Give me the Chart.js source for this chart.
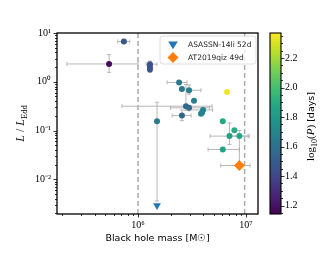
<!DOCTYPE html>
<html><head><meta charset="utf-8">
<script src="https://cdn.jsdelivr.net/npm/chart.js@4/dist/chart.umd.min.js"></script>
<style>html,body{margin:0;padding:0;background:#fff;}#wrap{width:333px;height:260px;position:relative;}</style>
</head><body><div id="wrap"><canvas id="c" width="333" height="260"></canvas></div>
<script>
// ---- data ----
const mass   = [7.4e5, 5.4e5, 1.29e6, 1.29e6, 1.29e6, 1.5e6, 2.4e6, 2.55e6, 2.97e6, 3.3e6, 2.78e6, 2.97e6, 4.0e6, 3.92e6, 3.83e6, 2.55e6, 6.67e6, 6.09e6, 7.8e6, 7.03e6, 8.67e6, 6.09e6];
const lum    = [6.7, 2.32, 2.3, 2.0, 1.78, 0.156, 0.97, 0.71, 0.67, 0.41, 0.316, 0.293, 0.265, 0.235, 0.222, 0.203, 0.62, 0.156, 0.101, 0.077, 0.077, 0.041];
const logP   = [1.47, 1.18, 1.46, 1.45, 1.47, 1.66, 1.64, 1.63, 1.66, 1.67, 1.56, 1.56, 1.69, 1.68, 1.69, 1.55, 2.35, 1.88, 1.90, 1.83, 1.87, 1.85];
const massLo = [6.5e5, 2.2e5, 1.19e6, null, null, null, 1.86e6, null, 2.84e6, null, 7.1e5, 2.0e6, 2.97e6, null, null, 2.07e6, null, null, null, 4.64e6, 6.81e6, 4.45e6];
const massHi = [8.4e5, 1.0e6, 1.5e6, null, null, null, 2.84e6, null, 3.83e6, null, 4.85e6, 4.6e6, 4.9e6, null, null, 3.1e6, null, null, null, 1.045e7, 1.07e7, 8.67e6];
const lumLo  = [null, 1.56, null, 1.56, null, 0.0036, null, null, 0.56, null, 0.26, null, null, null, null, 0.16, null, null, null, 0.052, 0.019, null];
const lumHi  = [null, 3.6, null, 2.65, null, 0.38, null, null, 0.86, null, 0.875, null, null, null, null, 0.265, null, null, null, 0.143, 0.1, null];

const specialLabels = ['ASASSN-14li 52d', 'AT2019qiz 49d'];
const specialMass   = [1.5e6, 8.67e6];
const specialLum    = [0.0029, 0.0192];
const specialMassLo = [null, 5.83e6];
const specialMassHi = [null, 1.09e7];

const vLines = [1e6, 9.7e6];

const xRange = [1.78e5, 1.29e7];
const yRange = [0.00195, 10];
const cRange = [1.143, 2.37];

const xTickVals = [1e6, 1e7];
const xTickLabels = ['10⁶', '10⁷'];
const yTickVals = [0.01, 0.1, 1, 10];
const yTickLabels = ['10⁻²', '10⁻¹', '10⁰', '10¹'];
const cTickVals = [1.2, 1.4, 1.6, 1.8, 2.0, 2.2];
const cTickLabels = ['1.2', '1.4', '1.6', '1.8', '2.0', '2.2'];

const xTitle = 'Black hole mass [M☉]';

// ---- helpers ----
const VIR = [[68,1,84],[72,36,117],[65,68,135],[53,95,141],[42,120,142],[33,145,140],[34,168,132],[68,191,112],[122,209,81],[189,223,38],[253,231,37]];
function viridis(t){
  t = Math.max(0, Math.min(1, t));
  const s = t * 10, i = Math.min(9, Math.floor(s)), f = s - i;
  const a = VIR[i], b = VIR[i+1];
  return 'rgb(' + [0,1,2].map(k => Math.round(a[k] + (b[k]-a[k])*f)).join(',') + ')';
}
function cnorm(v){ return (v - cRange[0]) / (cRange[1] - cRange[0]); }
function logTickValues(min, max){
  const out = [];
  for (let e = Math.floor(Math.log10(min)); e <= Math.ceil(Math.log10(max)); e++){
    for (let k = 1; k <= 9; k++){
      const v = k * Math.pow(10, e);
      if (v >= min * 0.9999 && v <= max * 1.0001) out.push({value: v, major: k === 1});
    }
  }
  return out;
}
function labelFor(v, vals, labels){
  for (let i = 0; i < vals.length; i++) if (Math.abs(Math.log10(v) - Math.log10(vals[i])) < 1e-6) return labels[i];
  return '';
}

const pointColors = logP.map(p => viridis(cnorm(p)));

// ---- plugins ----
const errorBarPlugin = {
  id: 'errbars',
  beforeDatasetsDraw(chart){
    const {ctx, chartArea: a} = chart;
    const xs = chart.scales.x, ys = chart.scales.y;
    ctx.save();
    ctx.beginPath(); ctx.rect(a.left, a.top, a.right - a.left, a.bottom - a.top); ctx.clip();
    ctx.strokeStyle = 'rgba(175,175,175,0.9)';
    ctx.lineWidth = 1;
    const cap = 2;
    function bars(m, l, mlo, mhi, llo, lhi){
      const px = xs.getPixelForValue(m), py = ys.getPixelForValue(l);
      ctx.beginPath();
      if (mlo != null){
        const x1 = xs.getPixelForValue(mlo), x2 = xs.getPixelForValue(mhi);
        ctx.moveTo(x1, py); ctx.lineTo(x2, py);
        ctx.moveTo(x1, py - cap); ctx.lineTo(x1, py + cap);
        ctx.moveTo(x2, py - cap); ctx.lineTo(x2, py + cap);
      }
      if (llo != null){
        const y1 = ys.getPixelForValue(llo), y2 = ys.getPixelForValue(lhi);
        ctx.moveTo(px, y1); ctx.lineTo(px, y2);
        ctx.moveTo(px - cap, y1); ctx.lineTo(px + cap, y1);
        ctx.moveTo(px - cap, y2); ctx.lineTo(px + cap, y2);
      }
      ctx.stroke();
    }
    for (let i = 0; i < mass.length; i++) bars(mass[i], lum[i], massLo[i], massHi[i], lumLo[i], lumHi[i]);
    for (let i = 0; i < specialMass.length; i++) bars(specialMass[i], specialLum[i], specialMassLo[i], specialMassHi[i], null, null);
    ctx.restore();
  }
};

function drawMarker(ctx, style, x, y, r, color){
  ctx.fillStyle = color;
  ctx.beginPath();
  if (style === 'tri'){
    ctx.moveTo(x - r, y - r*0.6); ctx.lineTo(x + r, y - r*0.6); ctx.lineTo(x, y + r); ctx.closePath();
  } else {
    ctx.moveTo(x, y - r); ctx.lineTo(x + r, y); ctx.lineTo(x, y + r); ctx.lineTo(x - r, y); ctx.closePath();
  }
  ctx.fill();
}

function drawParts(ctx, parts, cx, cy, rot){
  ctx.save();
  ctx.translate(cx, cy); ctx.rotate(rot);
  let total = 0;
  parts.forEach(p => { ctx.font = p.font; p.w = ctx.measureText(p.t).width; total += p.w; });
  let x = -total / 2;
  ctx.fillStyle = '#000';
  ctx.textBaseline = 'alphabetic';
  ctx.textAlign = 'left';
  parts.forEach(p => { ctx.font = p.font; ctx.fillText(p.t, x, p.dy); x += p.w; });
  ctx.restore();
}

const decorPlugin = {
  id: 'decor',
  afterDraw(chart){
    const {ctx, chartArea: a} = chart;
    const xs = chart.scales.x, ys = chart.scales.y, cs = chart.scales.cb;
    ctx.save();
    // frame
    ctx.strokeStyle = '#000'; ctx.lineWidth = 1.3;
    ctx.strokeRect(a.left, a.top, a.right - a.left, a.bottom - a.top);
    // tick marks
    ctx.lineWidth = 0.8;
    ctx.beginPath();
    logTickValues(xRange[0], xRange[1]).forEach(t => {
      const px = Math.round(xs.getPixelForValue(t.value)) + 0.5;
      const len = t.major ? 3.5 : 2;
      ctx.moveTo(px, a.bottom); ctx.lineTo(px, a.bottom + len);
    });
    logTickValues(yRange[0], yRange[1]).forEach(t => {
      const py = Math.round(ys.getPixelForValue(t.value)) + 0.5;
      const len = t.major ? 3.5 : 2;
      ctx.moveTo(a.left, py); ctx.lineTo(a.left - len, py);
    });
    ctx.stroke();

    // legend
    const lx = a.left + 103, ly = a.top + 3, lw = 96, lh = 28;
    ctx.fillStyle = 'rgba(255,255,255,0.8)';
    ctx.strokeStyle = '#d5d5d5'; ctx.lineWidth = 0.8;
    ctx.beginPath();
    if (ctx.roundRect) ctx.roundRect(lx, ly, lw, lh, 3); else ctx.rect(lx, ly, lw, lh);
    ctx.fill(); ctx.stroke();
    const specDs = [chart.data.datasets[1], chart.data.datasets[2]];
    drawMarker(ctx, 'tri', lx + 13, ly + 8.5, 4.8, specDs[0].backgroundColor);
    drawMarker(ctx, 'dia', lx + 13, ly + 21.5, 5.5, specDs[1].backgroundColor);
    ctx.fillStyle = '#222';
    ctx.font = '7.5px "DejaVu Sans"';
    ctx.textBaseline = 'middle'; ctx.textAlign = 'left';
    ctx.fillText(specDs[0].label, lx + 28, ly + 9);
    ctx.fillText(specDs[1].label, lx + 28, ly + 22);

    // colorbar
    const cbL = a.right + 12, cbW = 11;
    const top = cs.getPixelForValue(cRange[1]), bot = cs.getPixelForValue(cRange[0]);
    const g = ctx.createLinearGradient(0, bot, 0, top);
    for (let i = 0; i <= 20; i++) g.addColorStop(i / 20, viridis(i / 20));
    ctx.fillStyle = g;
    ctx.fillRect(cbL, top, cbW, bot - top);
    ctx.strokeStyle = '#000'; ctx.lineWidth = 1.1;
    ctx.strokeRect(cbL, top, cbW, bot - top);
    ctx.lineWidth = 0.8;
    ctx.beginPath();
    for (let v = 1.15; v <= cRange[1] + 1e-9; v += 0.05){
      const vv = Math.round(v * 100) / 100;
      const major = cTickVals.some(c => Math.abs(c - vv) < 1e-6);
      const py = Math.round(cs.getPixelForValue(vv)) + 0.5;
      ctx.moveTo(cbL + cbW, py); ctx.lineTo(cbL + cbW + (major ? 3.5 : 2), py);
    }
    ctx.stroke();

    // y title  L / L_Edd
    drawParts(ctx, [
      {t: 'L', font: 'italic 12px "Liberation Serif"', dy: 4},
      {t: ' / ', font: '12px "Liberation Serif"', dy: 4},
      {t: 'L', font: 'italic 12px "Liberation Serif"', dy: 4},
      {t: 'Edd', font: '8.5px "Liberation Serif"', dy: 6.5}
    ], 20, (a.top + a.bottom) / 2, -Math.PI / 2);

    // colorbar title  log10(P) [days]
    drawParts(ctx, [
      {t: 'log', font: '11px "Liberation Serif"', dy: 4},
      {t: '10', font: '8px "Liberation Serif"', dy: 6.5},
      {t: '(', font: '11px "Liberation Serif"', dy: 4},
      {t: 'P', font: 'italic 11px "Liberation Serif"', dy: 4},
      {t: ')', font: '11px "Liberation Serif"', dy: 4},
      {t: ' [days]', font: '9.5px "DejaVu Sans"', dy: 4}
    ], 310, (a.top + a.bottom) / 2 + 3, -Math.PI / 2);

    ctx.restore();
  }
};

// ---- chart ----
const mainData = mass.map((m, i) => ({x: m, y: lum[i]}));
const datasets = [
  {type: 'scatter', label: 'TDEs', data: mainData, pointRadius: 3, pointHoverRadius: 3,
   pointBackgroundColor: pointColors, pointBorderWidth: 0, borderWidth: 0, order: 2},
  {type: 'scatter', label: specialLabels[0], data: [{x: specialMass[0], y: specialLum[0]}],
   pointStyle: 'triangle', rotation: 180, pointRadius: 4.5, backgroundColor: '#1f77b4', borderColor: '#1f77b4', pointBorderWidth: 0, order: 1},
  {type: 'scatter', label: specialLabels[1], data: [{x: specialMass[1], y: specialLum[1]}],
   pointStyle: 'rectRot', pointRadius: 5.5, backgroundColor: '#ff7f0e', borderColor: '#ff7f0e', pointBorderWidth: 0, order: 1},
];
vLines.forEach(v => datasets.push({
  type: 'line', label: 'limit', data: [{x: v, y: yRange[0]}, {x: v, y: yRange[1]}],
  borderColor: '#ababab', borderWidth: 1.5, borderDash: [5, 3], pointRadius: 0, order: 5
}));

new Chart(document.getElementById('c'), {
  data: {datasets},
  options: {
    responsive: false, animation: false, devicePixelRatio: 1,
    layout: {padding: {top: 21, right: 0, bottom: 0, left: 0}},
    plugins: {legend: {display: false}, tooltip: {enabled: false}},
    scales: {
      x: {
        type: 'logarithmic', position: 'bottom', min: xRange[0], max: xRange[1],
        afterBuildTicks: s => { s.ticks = logTickValues(xRange[0], xRange[1]); },
        afterFit: s => { s.height = 46; },
        grid: {display: false, drawTicks: false}, border: {display: false},
        ticks: {autoSkip: false, maxRotation: 0, padding: 5, color: '#000',
          font: {family: '"Liberation Serif"', size: 10},
          callback: v => labelFor(v, xTickVals, xTickLabels)},
        title: {display: true, text: xTitle, color: '#000', font: {family: '"DejaVu Sans"', size: 9.5}, padding: {top: 0, bottom: 16}}
      },
      y: {
        type: 'logarithmic', position: 'left', min: yRange[0], max: yRange[1],
        afterBuildTicks: s => { s.ticks = logTickValues(yRange[0], yRange[1]); },
        afterFit: s => { s.width = 57; },
        grid: {display: false, drawTicks: false}, border: {display: false},
        ticks: {autoSkip: false, padding: 6, color: '#000',
          font: {family: '"Liberation Serif"', size: 10},
          callback: v => labelFor(v, yTickVals, yTickLabels)}
      },
      cb: {
        type: 'linear', position: 'right', min: cRange[0], max: cRange[1],
        afterBuildTicks: s => { s.ticks = cTickVals.map(v => ({value: v})); },
        afterFit: s => { s.width = 75; },
        grid: {display: false, drawTicks: false}, border: {display: false},
        ticks: {autoSkip: false, padding: 27, color: '#000',
          font: {family: '"Liberation Serif"', size: 10},
          callback: (v, i) => cTickLabels[i]}
      }
    }
  },
  plugins: [errorBarPlugin, decorPlugin]
});
</script></body></html>
